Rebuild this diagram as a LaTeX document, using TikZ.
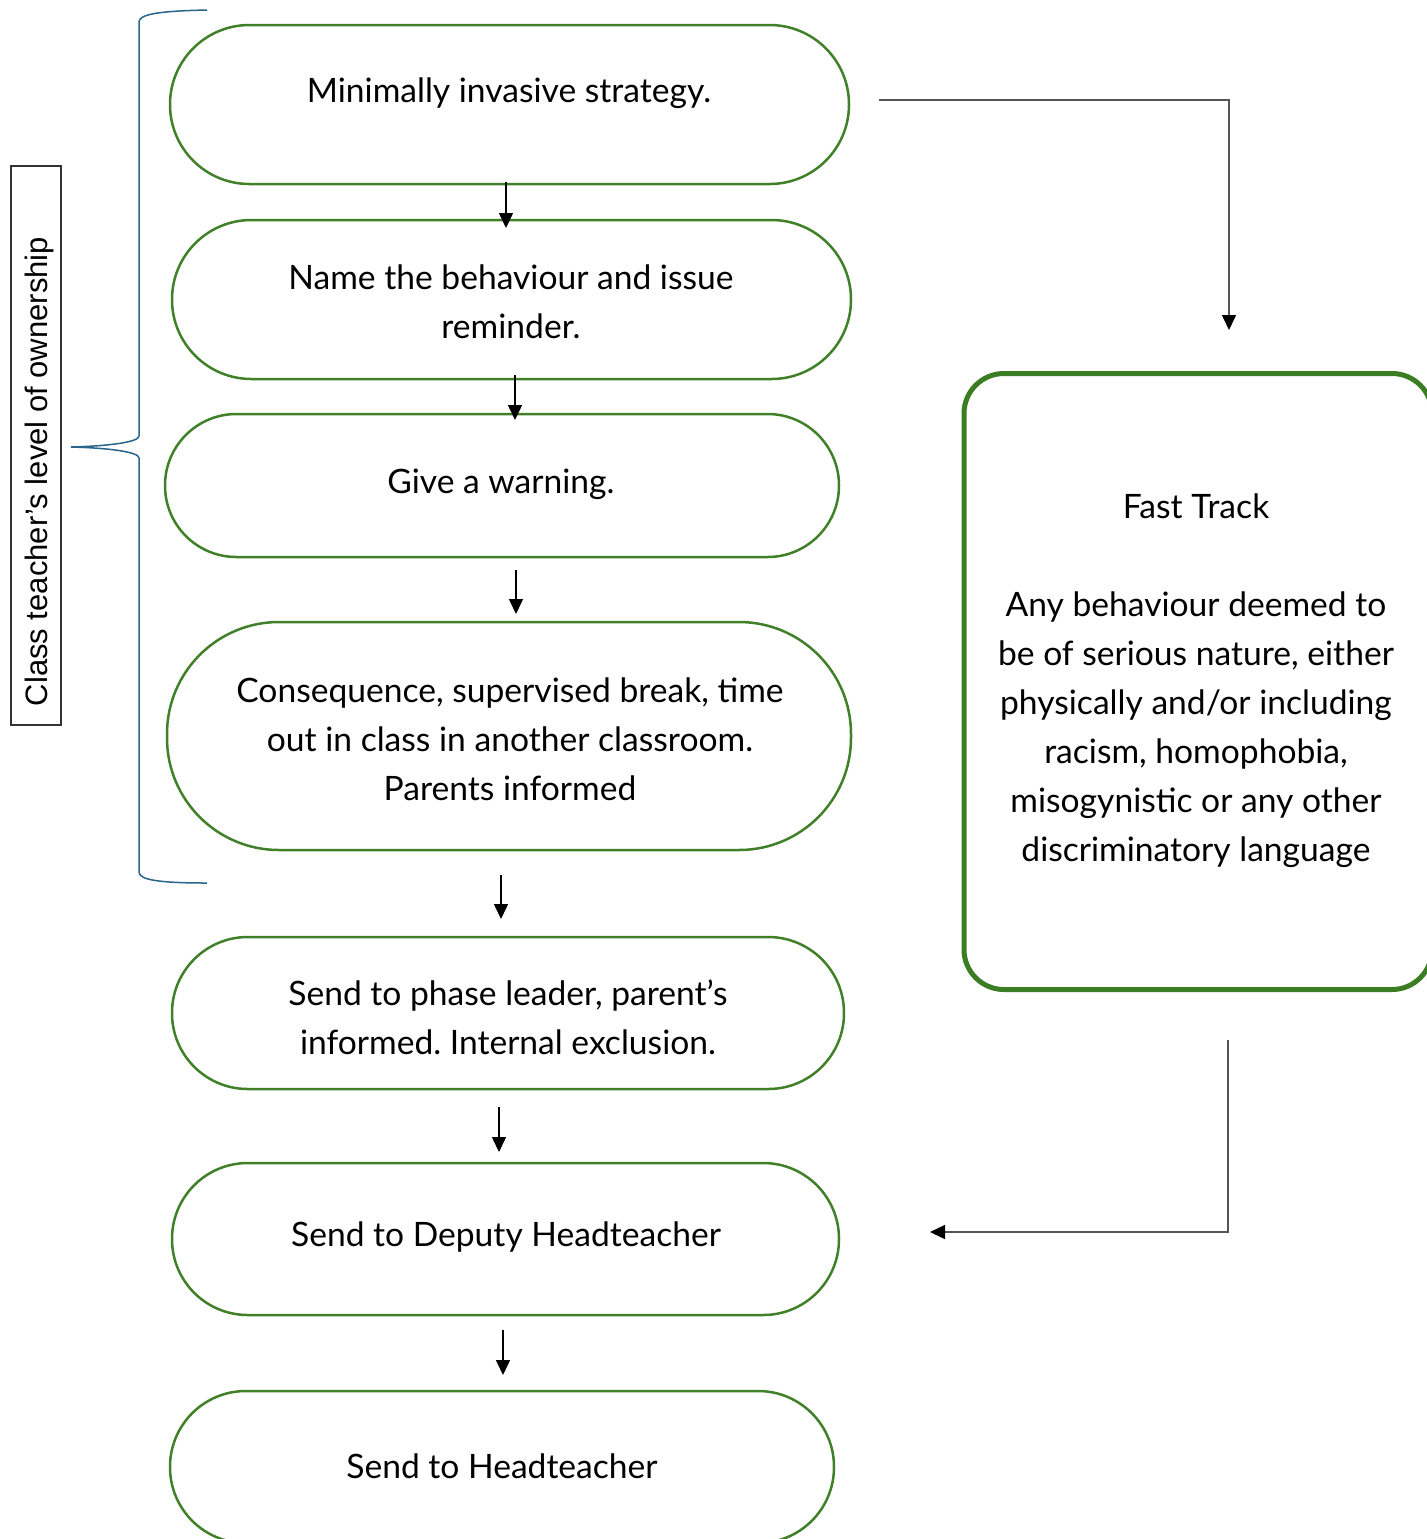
\documentclass[tikz,border=0pt]{standalone}
\usepackage{fontspec}
\setmainfont{Lato}
\newfontfamily\arialfont{Liberation Sans}
\usetikzlibrary{arrows.meta}
\definecolor{boxgreen}{RGB}{64,128,40}
\definecolor{ftgreen}{RGB}{59,125,35}
\definecolor{braceblue}{RGB}{40,100,140}
\definecolor{linegray}{RGB}{85,85,85}
\frenchspacing
\begin{document}
\begin{tikzpicture}[x=0.5pt,y=-0.5pt,
  stad/.style={draw=boxgreen, line width=1.25pt, inner sep=0pt},
  ftbox/.style={draw=ftgreen, line width=2.5pt, inner sep=0pt, rounded corners=20pt},
  txt/.style={align=center, font=\fontsize{16.8}{24.5}\selectfont, inner sep=0pt},
  arr/.style={line width=0.75pt, -{Triangle[width=7pt,length=7.5pt]}},
  garr/.style={draw=linegray, line width=0.75pt, -{Triangle[width=7pt,length=7.5pt,color=black]}},
  bracestyle/.style={draw=braceblue, line width=0.75pt},
]
\useasboundingbox (0,0) rectangle (1427,1539);

% stadium boxes
\node[stad, minimum width=339.5pt, minimum height=79.5pt, rounded corners=39.7pt] (b1) at (509.5,104.5) {};
\node[stad, minimum width=339.5pt, minimum height=79.5pt, rounded corners=39.7pt] (b2) at (511.5,299.5) {};
\node[stad, minimum width=337pt, minimum height=71.5pt, rounded corners=35.7pt] (b3) at (502,485.5) {};
\node[stad, minimum width=342pt, minimum height=114pt, rounded corners=56pt] (b4) at (509,736) {};
\node[stad, minimum width=336pt, minimum height=76pt, rounded corners=37.9pt] (b5) at (508,1013) {};
\node[stad, minimum width=333.5pt, minimum height=76pt, rounded corners=37.9pt] (b6) at (505.5,1239) {};
\node[stad, minimum width=332pt, minimum height=76pt, rounded corners=37.9pt] (b7) at (502,1467) {};

% fast track box
\node[ftbox, minimum width=234pt, minimum height=308pt] (ft) at (1198,681.5) {};

% texts
\node[txt] (t1) at (509,93) {Minimally invasive strategy.};
\node[txt] (t2) at (511,301.5) {Name the behaviour and issue\\reminder.};
\node[txt] (t3) at (501,484) {Give a warning.};
\node[txt] (t4) at (510,739) {Consequence, supervised break, time\\out in class in another classroom.\\Parents informed};
\node[txt] (t5) at (508,1017.5) {Send to phase leader, parent’s\\informed. Internal exclusion.};
\node[txt] (t6) at (506,1237) {Send to Deputy Headteacher};
\node[txt] (t7) at (502,1466) {Send to Headteacher};
\node[txt] (tft) at (1196,681) {Fast Track\\[24.5pt]Any behaviour deemed to\\be of serious nature, either\\physically and/or including\\racism, homophobia,\\misogynistic or any other\\discriminatory language};

% left label
\node[draw=black!80, line width=0.6pt, minimum width=25pt, minimum height=279.5pt, inner sep=0pt] (lab) at (36,445.5) {};
\node[rotate=90, inner sep=0pt, font=\arialfont\fontsize{15.5}{18}\selectfont] (labtxt) at (39,471.5) {Class teacher’s level of ownership};

% brace
\draw[bracestyle] (207,10) .. controls (160,11) and (139,14) .. (139,22)
  -- (139,436) .. controls (139,442) and (110,446) .. (71,447)
  .. controls (110,448) and (139,452) .. (139,458)
  -- (139,872) .. controls (139,880) and (160,883) .. (207,883);

% vertical arrows
\coordinate (a1s) at (506,182); \coordinate (a1e) at (506,228);
\coordinate (a2s) at (515,375); \coordinate (a2e) at (515,420);
\coordinate (a3s) at (516,570); \coordinate (a3e) at (516,614);
\coordinate (a4s) at (501,875); \coordinate (a4e) at (501,919);
\coordinate (a5s) at (499,1107); \coordinate (a5e) at (499,1152);
\coordinate (a6s) at (503,1330); \coordinate (a6e) at (503,1375);
\draw[arr] (a1s) -- (a1e);
\draw[arr] (a2s) -- (a2e);
\draw[arr] (a3s) -- (a3e);
\draw[arr] (a4s) -- (a4e);
\draw[arr] (a5s) -- (a5e);
\draw[arr] (a6s) -- (a6e);

% fast track connectors
\coordinate (f1s) at (879,100); \coordinate (f1e) at (1229,330);
\coordinate (f2s) at (1228,1040); \coordinate (f2e) at (930,1232);
\draw[garr] (f1s) -| (f1e);
\draw[garr] (f2s) |- (f2e);
\end{tikzpicture}
\end{document}
